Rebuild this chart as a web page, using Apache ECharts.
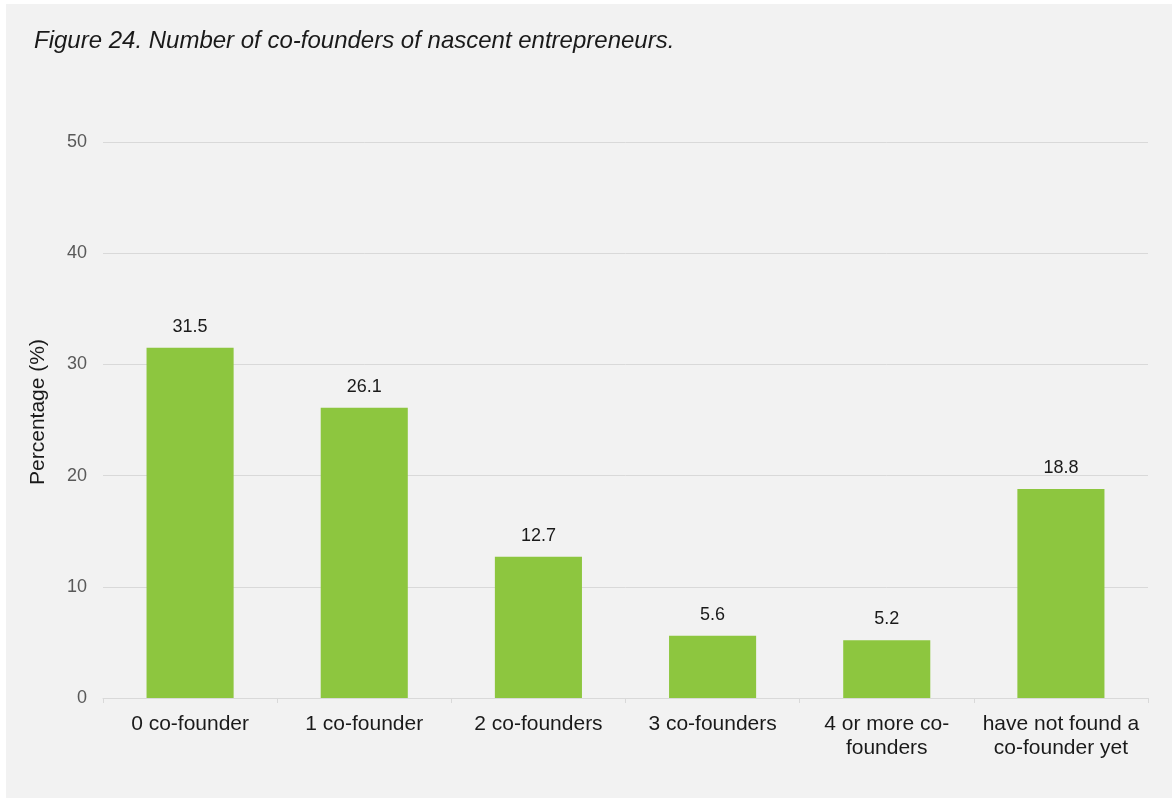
<!DOCTYPE html>
<html>
<head>
<meta charset="utf-8">
<script src="https://cdn.jsdelivr.net/npm/echarts@6/dist/echarts.min.js"></script>
<style>
  html, body { margin: 0; padding: 0; background: #ffffff; }
  #chart { width: 1172px; height: 799px; }
</style>
</head>
<body>
<div id="chart"></div>
<script>
// Number of co-founders of nascent entrepreneurs (percent)
const categories = [
  '0 co-founder',
  '1 co-founder',
  '2 co-founders',
  '3 co-founders',
  '4 or more co-\nfounders',
  'have not found a\nco-founder yet'
];
const percentages = [31.5, 26.1, 12.7, 5.6, 5.2, 18.8];
const yTicks = { min: 0, max: 50, interval: 10 };

const chart = echarts.init(document.getElementById('chart'), null, { renderer: 'canvas' });

chart.setOption({
  backgroundColor: '#ffffff',
  animation: false,
  textStyle: { fontFamily: '"Liberation Sans", Arial, sans-serif' },
  graphic: [
    {
      type: 'rect',
      z: -10,
      shape: { x: 6, y: 4, width: 1166, height: 794 },
      style: { fill: '#f2f2f2' }
    },
    {
      type: 'text',
      left: 34,
      top: 29,
      style: {
        text: 'Figure 24. Number of co-founders of nascent entrepreneurs.',
        font: 'italic 24px "Liberation Sans", Arial, sans-serif',
        fill: '#1a1a1a'
      }
    }
  ],
  grid: { left: 103, right: 24, top: 142, bottom: 101, containLabel: false },
  xAxis: {
    type: 'category',
    data: categories,
    axisLine: { lineStyle: { color: '#d9d9d9', width: 1 } },
    axisTick: { show: true, length: 5, lineStyle: { color: '#d9d9d9' } },
    axisLabel: {
      color: '#1a1a1a',
      fontSize: 21,
      lineHeight: 24,
      margin: 14,
      interval: 0
    }
  },
  yAxis: {
    type: 'value',
    min: yTicks.min,
    max: yTicks.max,
    interval: yTicks.interval,
    name: 'Percentage (%)',
    nameLocation: 'middle',
    nameGap: 54,
    nameRotate: 90,
    nameTextStyle: { color: '#1a1a1a', fontSize: 21, padding: [0, 0, 0, 16] },
    axisLine: { show: false },
    axisTick: { show: false },
    axisLabel: { color: '#595959', fontSize: 18, margin: 16 },
    splitLine: { lineStyle: { color: '#d9d9d9', width: 1 } }
  },
  series: [{
    type: 'bar',
    data: percentages,
    barWidth: '50%',
    itemStyle: { color: '#8dc63f' },
    label: {
      show: true,
      position: 'top',
      distance: 12,
      color: '#1a1a1a',
      fontSize: 18,
      formatter: p => p.value.toFixed(1)
    }
  }]
});
</script>
</body>
</html>
